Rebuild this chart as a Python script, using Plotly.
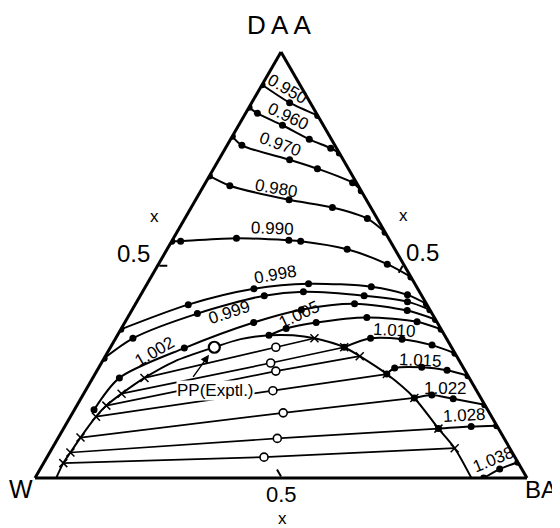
import plotly.graph_objects as go

# ---------------- data (DAA, W, BA) mass fractions ----------------
iso_0950 = [(0.923, 0.077, 0.000), (0.881, 0.042, 0.077), (0.851, 0.000, 0.149)]
iso_0960 = [(0.870, 0.130, 0.000), (0.856, 0.120, 0.024), (0.828, 0.083, 0.089),
            (0.795, 0.045, 0.160), (0.774, 0.012, 0.214), (0.763, 0.000, 0.237)]
iso_0970 = [(0.802, 0.198, 0.000), (0.781, 0.189, 0.030), (0.747, 0.109, 0.144),
            (0.726, 0.063, 0.211), (0.693, 0.008, 0.299), (0.674, 0.000, 0.326)]
iso_0980 = [(0.709, 0.291, 0.000), (0.686, 0.261, 0.053), (0.653, 0.157, 0.190),
            (0.635, 0.078, 0.287), (0.609, 0.020, 0.371), (0.577, 0.000, 0.423)]
iso_0990 = [(0.556, 0.444, 0.000), (0.556, 0.426, 0.018), (0.563, 0.309, 0.128),
            (0.558, 0.205, 0.237), (0.556, 0.182, 0.262), (0.537, 0.097, 0.366),
            (0.502, 0.033, 0.465), (0.472, 0.000, 0.528)]
iso_0998 = [(0.349, 0.651, 0.000), (0.407, 0.485, 0.108), (0.444, 0.333, 0.223),
            (0.456, 0.216, 0.328), (0.449, 0.092, 0.459), (0.430, 0.028, 0.542),
            (0.409, 0.000, 0.591)]
iso_0999 = [(0.281, 0.719, 0.000), (0.328, 0.637, 0.035), (0.386, 0.477, 0.137),
            (0.428, 0.320, 0.252), (0.437, 0.236, 0.327), (0.428, 0.117, 0.455),
            (0.414, 0.036, 0.550), (0.395, 0.000, 0.605)]
iso_1002 = [(0.160, 0.800, 0.040), (0.235, 0.711, 0.054), (0.305, 0.544, 0.151),
            (0.365, 0.373, 0.262), (0.395, 0.261, 0.344), (0.409, 0.146, 0.445),
            (0.393, 0.047, 0.560), (0.372, 0.000, 0.628)]
iso_1005 = [(0.335, 0.357, 0.308), (0.351, 0.314, 0.335), (0.365, 0.246, 0.389),
            (0.377, 0.137, 0.486), (0.367, 0.040, 0.593), (0.349, 0.000, 0.651)]
iso_1010 = [(0.307, 0.218, 0.475), (0.328, 0.154, 0.518), (0.326, 0.091, 0.583),
            (0.312, 0.037, 0.651), (0.293, 0.000, 0.707)]
iso_1015 = [(0.244, 0.163, 0.593), (0.258, 0.140, 0.602), (0.260, 0.084, 0.656),
            (0.253, 0.036, 0.711), (0.240, 0.000, 0.760)]
iso_1022 = [(0.188, 0.135, 0.677), (0.195, 0.096, 0.709), (0.186, 0.057, 0.757),
            (0.172, 0.000, 0.828)]
iso_1028 = [(0.116, 0.122, 0.762), (0.121, 0.053, 0.826), (0.123, 0.000, 0.877)]
iso_1038 = [(0.000, 0.088, 0.912), (0.021, 0.045, 0.934), (0.037, 0.000, 0.963)]

iso_lines = [iso_0950, iso_0960, iso_0970, iso_0980, iso_0990, iso_0998, iso_0999,
             iso_1002, iso_1005, iso_1010, iso_1015, iso_1022, iso_1028, iso_1038]
iso_labels = ["0.950", "0.960", "0.970", "0.980", "0.990", "0.998", "0.999",
              "1.002", "1.005", "1.010", "1.015", "1.022", "1.028", "1.038"]

# binodal curve
binodal = [(0.000, 0.957, 0.043), (0.035, 0.925, 0.040), (0.060, 0.898, 0.042),
           (0.095, 0.860, 0.045), (0.144, 0.804, 0.052), (0.170, 0.770, 0.060),
           (0.198, 0.725, 0.077), (0.235, 0.660, 0.105), (0.274, 0.579, 0.147),
           (0.307, 0.482, 0.211), (0.326, 0.419, 0.255), (0.335, 0.357, 0.308),
           (0.335, 0.308, 0.357), (0.328, 0.268, 0.404), (0.307, 0.218, 0.475),
           (0.286, 0.197, 0.517), (0.244, 0.163, 0.593), (0.188, 0.135, 0.677),
           (0.116, 0.122, 0.762), (0.070, 0.112, 0.818), (0.000, 0.113, 0.887)]

# tie lines: W-rich end, overall (feed) composition, BA-rich end
tie_left = [(0.235, 0.660, 0.105), (0.198, 0.725, 0.077), (0.170, 0.770, 0.060),
            (0.144, 0.804, 0.052), (0.095, 0.860, 0.045), (0.060, 0.898, 0.042),
            (0.035, 0.925, 0.040)]
tie_feed = [(0.307, 0.357, 0.336), (0.270, 0.386, 0.344), (0.251, 0.385, 0.364),
            (0.205, 0.414, 0.381), (0.153, 0.419, 0.428), (0.093, 0.461, 0.446),
            (0.049, 0.510, 0.441)]
tie_right = [(0.328, 0.268, 0.404), (0.307, 0.218, 0.475), (0.286, 0.197, 0.517),
             (0.244, 0.163, 0.593), (0.188, 0.135, 0.677), (0.116, 0.122, 0.762),
             (0.070, 0.112, 0.818)]

plait_point = (0.307, 0.482, 0.211)

axis_tick_vals = [0.5]
axis_tick_text = ["0.5"]
vertex_names = ["D\u2009A\u2009A", "W", "BA"]

# ---------------- figure ----------------
FONT = "Liberation Sans, Arial, Helvetica, sans-serif"
fig = go.Figure()


def col(pts, i):
    return [p[i] for p in pts]


# tie lines
for L, F, R in zip(tie_left, tie_feed, tie_right):
    pts = [L, F, R]
    fig.add_trace(go.Scatterternary(a=col(pts, 0), b=col(pts, 1), c=col(pts, 2),
                                    mode="lines", line=dict(color="black", width=1.7),
                                    hoverinfo="skip", showlegend=False))

# binodal
fig.add_trace(go.Scatterternary(a=col(binodal, 0), b=col(binodal, 1), c=col(binodal, 2),
                                mode="lines", line=dict(color="black", width=2, shape="spline", smoothing=0.8),
                                hoverinfo="skip", showlegend=False))

# iso-lines
for pts in iso_lines:
    fig.add_trace(go.Scatterternary(a=col(pts, 0), b=col(pts, 1), c=col(pts, 2),
                                    mode="lines+markers",
                                    line=dict(color="black", width=2, shape="spline", smoothing=0.8),
                                    marker=dict(color="black", size=7),
                                    hoverinfo="skip", showlegend=False))

# tie line end marks
ends = tie_left + tie_right
fig.add_trace(go.Scatterternary(a=col(ends, 0), b=col(ends, 1), c=col(ends, 2),
                                mode="markers",
                                marker=dict(symbol="x-thin-open", size=8, color="black",
                                            line=dict(color="black", width=1.5)),
                                hoverinfo="skip", showlegend=False))

# feed points (open circles)
fig.add_trace(go.Scatterternary(a=col(tie_feed, 0), b=col(tie_feed, 1), c=col(tie_feed, 2),
                                mode="markers",
                                marker=dict(symbol="circle", size=8, color="white",
                                            line=dict(color="black", width=1.6)),
                                hoverinfo="skip", showlegend=False))

# plait point
fig.add_trace(go.Scatterternary(a=[plait_point[0]], b=[plait_point[1]], c=[plait_point[2]],
                                mode="markers",
                                marker=dict(symbol="circle", size=11, color="white",
                                            line=dict(color="black", width=2.2)),
                                hoverinfo="skip", showlegend=False))

axis_common = dict(min=0, linewidth=3, linecolor="black", showgrid=False,
                   tickmode="array", tickvals=axis_tick_vals, ticktext=axis_tick_text,
                   showticklabels=False,
                   ticks="inside", ticklen=8, tickwidth=1.5, tickcolor="black")

fig.update_layout(
    width=552, height=520,
    margin=dict(l=27, r=33, t=42, b=48, autoexpand=False),
    paper_bgcolor="white",
    font=dict(family=FONT, color="black"),
    ternary=dict(
        sum=1, bgcolor="white",
        domain=dict(x=[0, 1], y=[0, 1]),
        aaxis=dict(title=dict(text=""), **axis_common),
        baxis=dict(title=dict(text=""), **axis_common),
        caxis=dict(title=dict(text=""), **axis_common),
    ),
)

TXT = dict(xref="paper", yref="paper", showarrow=False, xanchor="center", yanchor="middle")

# vertex names
for txt, (x, y, sz) in zip(vertex_names, [(0.496, 1.058, 26), (-0.028, -0.021, 25), (1.028, -0.023, 24)]):
    fig.add_annotation(x=x, y=y, text=txt, font=dict(size=sz, family=FONT, color="black"), **TXT)

# 0.5 tick labels with "x" marks
for x, y, sz in [(0.201, 0.526, 24), (0.787, 0.528, 24), (0.500, -0.034, 22)]:
    fig.add_annotation(x=x, y=y, text=axis_tick_text[0],
                       font=dict(size=sz, family=FONT, color="black"), **TXT)
for x, y in [(0.242, 0.612), (0.748, 0.614), (0.504, -0.089)]:
    fig.add_annotation(x=x, y=y, text="x", font=dict(size=17, family=FONT, color="black"), **TXT)

# contour labels (text placed along the curves)
label_pos = [(0.514, 0.908, 30), (0.515, 0.846, 25), (0.499, 0.781, 20), (0.490, 0.678, 10),
             (0.482, 0.585, 2), (0.489, 0.479, -10), (0.395, 0.389, -18), (0.243, 0.300, -30),
             (0.537, 0.385, -25), (0.731, 0.348, 3), (0.783, 0.277, 3), (0.835, 0.212, 0),
             (0.872, 0.150, -3), (0.932, 0.048, -22)]
for txt, (x, y, ang) in zip(iso_labels, label_pos):
    fig.add_annotation(x=x, y=y, text=txt, textangle=ang,
                       font=dict(size=17, family=FONT, color="black"), **TXT)

# plait point label and arrow
fig.add_annotation(x=0.366, y=0.207, text="PP(Exptl.)", bgcolor="white", borderpad=0,
                   font=dict(size=17, family=FONT, color="black"), **TXT)
fig.add_annotation(x=0.356, y=0.295, xref="paper", yref="paper", text=" ",
                   showarrow=True, ax=-20, ay=28, arrowhead=2, arrowsize=1.2,
                   arrowwidth=1.4, arrowcolor="black", standoff=2)

fig.write_html("out.html")
